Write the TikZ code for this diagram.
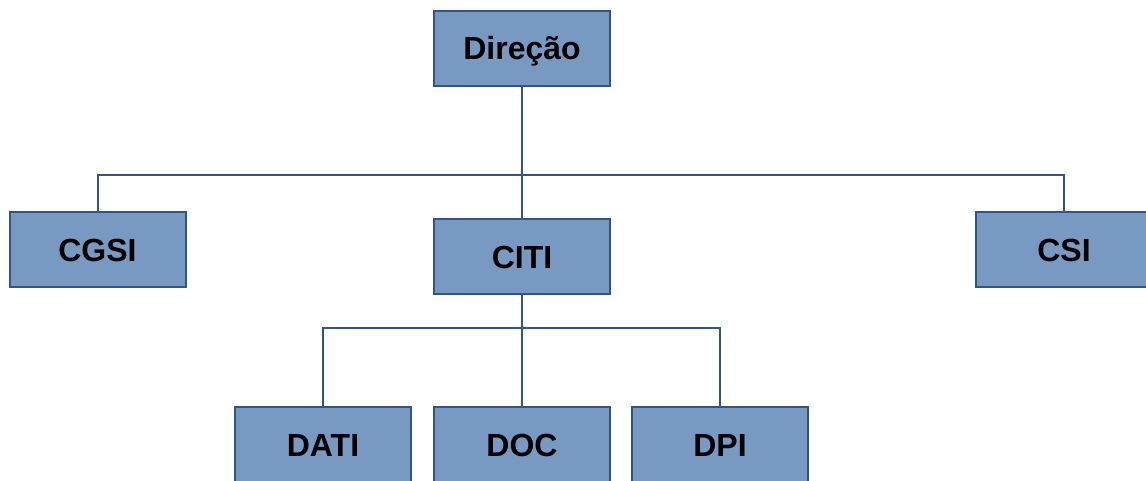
\documentclass[tikz,border=0pt]{standalone}
\usepackage{fontspec}
\setmainfont{Liberation Sans}
\definecolor{boxfill}{RGB}{119,153,194}
\definecolor{boxline}{RGB}{50,85,135}
\begin{document}
\begin{tikzpicture}[x=1pt,y=-1pt,
  unit/.style={draw=boxline, line width=2pt, fill=boxfill, rectangle,
    minimum width=176pt, minimum height=75pt, inner sep=0pt,
    text height=23pt, text depth=0pt,
    font=\fontsize{32}{37}\selectfont\bfseries, text=black},
  link/.style={draw=boxline, line width=2pt}]
\useasboundingbox (0,0) rectangle (1146,480);
\clip (0,0) rectangle (1146,480);
\node[unit] (dir) at (522,48) {Direção};
\node[unit] (cgsi) at (97.5,249.5) {CGSI};
\node[unit] (citi) at (522,256.5) {CITI};
\node[unit] (csi) at (1064,249.5) {CSI};
\node[unit] (dati) at (323,444.5) {DATI};
\node[unit] (doc) at (522,444.5) {DOC};
\node[unit] (dpi) at (720,444.5) {DPI};
\coordinate (bus1) at (522,175);
\coordinate (bus2) at (522,328);
\draw[link] (dir.south) -- (citi.north);
\draw[link] (cgsi.north) |- (bus1) -| (csi.north);
\draw[link] (citi.south) -- (doc.north);
\draw[link] (dati.north) |- (bus2) -| (dpi.north);
\end{tikzpicture}
\end{document}
